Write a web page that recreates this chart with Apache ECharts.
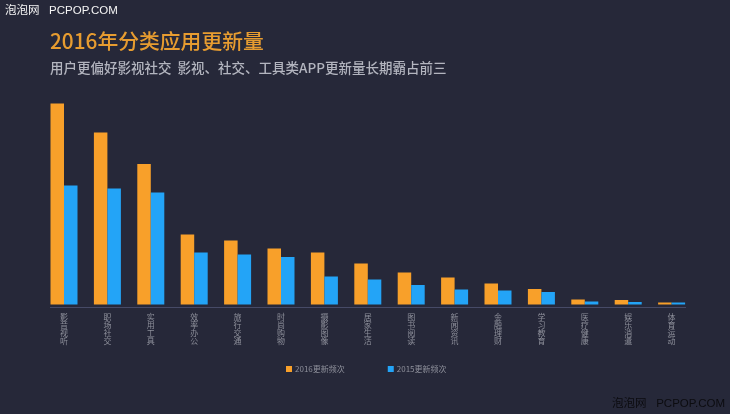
<!DOCTYPE html>
<html>
<head>
    <meta charset="utf-8">
    <title>2016年分类应用更新量</title>
    <script type="text/javascript" src="https://cdn.jsdelivr.net/npm/echarts@6/dist/echarts.min.js"></script>
    <style>
        html, body { margin: 0; padding: 0; background: #262839; }
    </style>
</head>
<body>
    <div id="chart" style="width: 730px;height:414px;"></div>
</body>
<script type="text/javascript">
    var categories = ['影音视听', '职场社交', '实用工具', '效率办公', '旅行交通', '时尚购物', '摄影图像', '居家生活', '图书阅读', '新闻资讯', '金融理财', '学习教育', '医疗健康', '娱乐消遣', '体育运动'];
    // 原图没有数值轴，数值为按柱高读出的相对量
    var values2016 = [201, 172, 140.5, 70, 64, 56, 52, 41, 32, 27, 21, 15.5, 5, 4.5, 2];
    var values2015 = [119, 116, 112, 52, 50, 47.5, 28, 25, 19.5, 15, 14, 12.5, 3, 2.5, 2];
    var seriesNames = ['2016更新频次', '2015更新频次'];

    var fontFamily = '"Noto Sans CJK SC", "Noto Sans", sans-serif';
    var markFont = '"Liberation Sans", "Noto Sans CJK SC", sans-serif';
    var chart = echarts.init(document.getElementById("chart"));
    chart.setOption({
        backgroundColor: '#262839',
        animation: false,
        textStyle: { fontFamily: fontFamily },
        title: [
            { text: '泡泡网   PCPOP.COM', left: 0, top: 0, textStyle: { color: '#f4f4f4', fontSize: 11.5, fontWeight: 'normal', fontFamily: markFont } },
            { text: '泡泡网   PCPOP.COM', right: 0, top: 393, textStyle: { color: '#0c0c10', fontSize: 11.5, fontWeight: 'normal', fontFamily: markFont } },
            { text: '2016年分类应用更新量', left: 45, top: 26, textStyle: { color: '#e79c30', fontSize: 20.8, fontWeight: 500, fontFamily: fontFamily } },
            { text: '用户更偏好影视社交  影视、社交、工具类APP更新量长期霸占前三', left: 45, top: 56, textStyle: { color: '#b3b5bf', fontSize: 13.5, fontWeight: 500, fontFamily: fontFamily } }
        ],
        legend: {
            left: 281,
            top: 360,
            itemWidth: 6,
            itemHeight: 6,
            itemGap: 43,
            icon: 'rect',
            data: seriesNames,
            textStyle: { color: '#8e909b', fontSize: 8, padding: [0, 0, 0, -2] }
        },
        grid: { left: 42.3, width: 651, top: 103.5, bottom: 109.5 },
        xAxis: {
            type: 'category',
            data: categories,
            axisLine: { show: false },
            axisTick: { show: false },
            axisLabel: {
                margin: 8,
                color: '#8e909b',
                fontSize: 8,
                lineHeight: 8,
                interval: 0,
                formatter: function (name) {
                    return name.split('').join('\n');
                }
            }
        },
        yAxis: { type: 'value', min: 0, max: 201, show: false, splitLine: { show: false } },
        series: [
            { name: seriesNames[0], type: 'bar', barWidth: 13.5, barGap: '0%', itemStyle: { color: '#f8a02a' }, data: values2016 },
            { name: seriesNames[1], type: 'bar', barWidth: 13.5, barGap: '0%', itemStyle: { color: '#23a4f7' }, data: values2015 }
        ],
        graphic: [
            { type: 'line', shape: { x1: 50, y1: 307.5, x2: 686, y2: 307.5 }, style: { stroke: '#464a66', lineWidth: 1 } }
        ]
    });
</script>
</html>
